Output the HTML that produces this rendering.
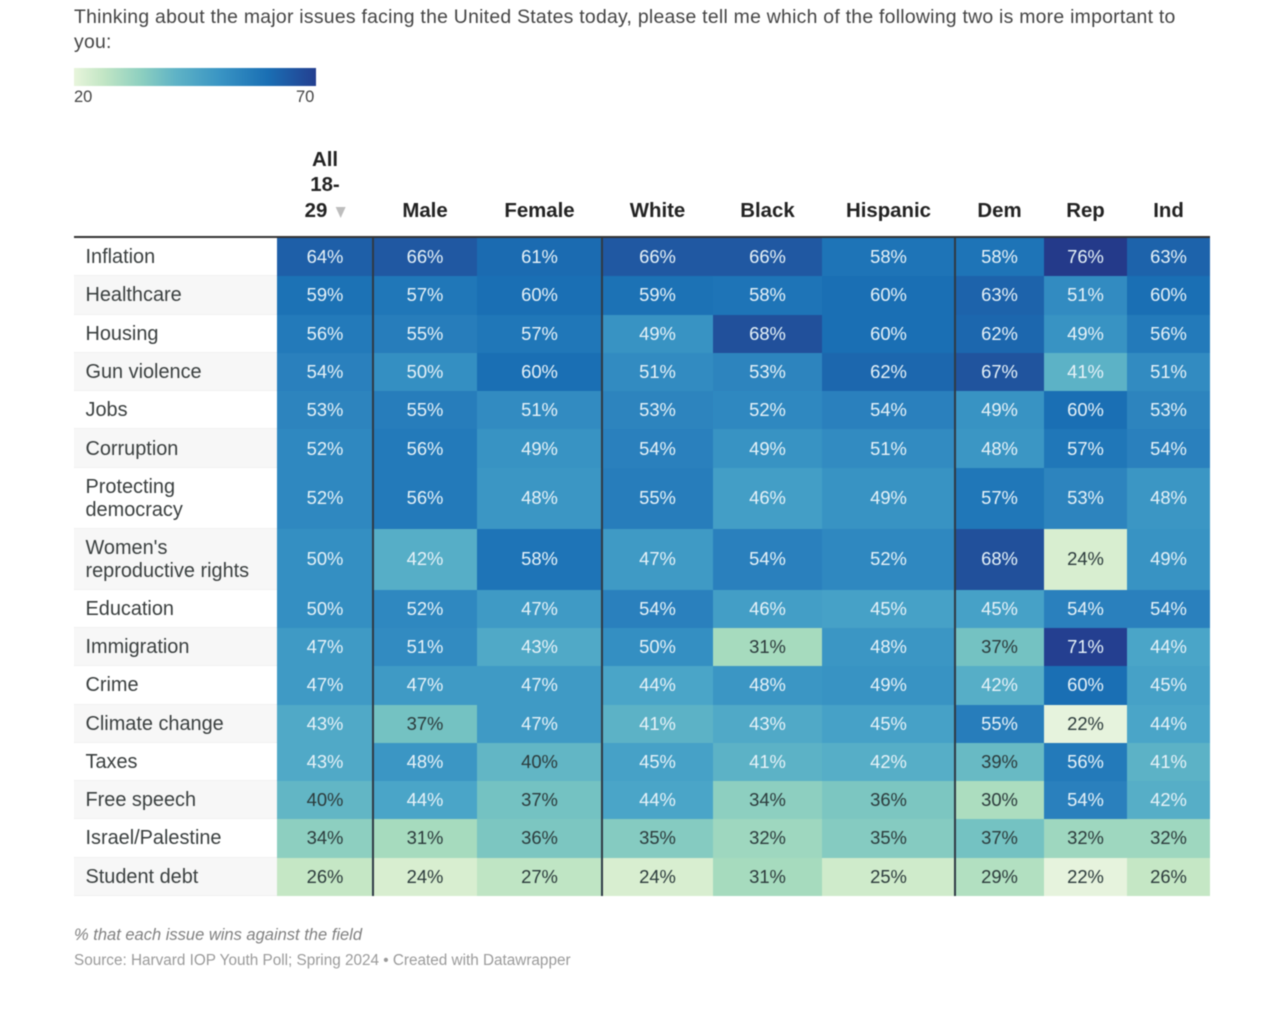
<!DOCTYPE html>
<html lang="en">
<head>
<meta charset="utf-8">
<title>Issues heatmap</title>
<style>
html,body{margin:0;padding:0;background:#fff;width:1284px;height:1024px;overflow:hidden}
body{font-family:"Liberation Sans",sans-serif;position:relative;color:#333}
#chart{position:absolute;left:0;top:0;width:1284px;height:1024px;filter:blur(.5px)}
.abs{position:absolute;white-space:nowrap}
.cell{display:flex;align-items:center;justify-content:center;font-size:18.4px}
.label{display:flex;align-items:center;box-sizing:border-box;padding-left:11.5px;padding-top:2px;font-size:19.9px;line-height:23px;color:#3a3f3f;white-space:pre-line}
.head{font-weight:bold;font-size:20.4px;line-height:25.5px;color:#222;text-align:center;transform:translateX(-50%)}
</style>
</head>
<body>
<div id="chart">
  <div class="abs" style="left:74px;top:5px;font-size:19.4px;letter-spacing:.26px;line-height:24.5px;color:#444">Thinking about the major issues facing the United States today, please tell me which of the following two is more important to<br>you:</div>
  <div class="abs" style="left:74px;top:68px;width:242px;height:18px;background:linear-gradient(90deg,#e8f5dc 0%,#c3e6c5 12%,#8ccfc0 28%,#5fb3c6 42%,#3a95c4 60%,#1a6fb4 80%,#243f90 100%)"></div>
  <div class="abs" style="left:74px;top:88px;font-size:16.5px;color:#444">20</div>
  <div class="abs" style="left:296px;top:88px;font-size:16.5px;color:#444">70</div>
  <div class="abs" style="left:74px;top:235.5px;width:1136px;height:2.5px;background:#333"></div>
  <div id="table"></div>
  <div class="abs" style="left:74px;top:926px;font-size:16.5px;font-style:italic;color:#808080">% that each issue wins against the field</div>
  <div class="abs" style="left:74px;top:952px;font-size:15.3px;color:#9a9a9a">Source: Harvard IOP Youth Poll; Spring 2024 • Created with Datawrapper</div>
</div>
<script>
const columns = ["All\n18-\n29", "Male", "Female", "White", "Black", "Hispanic", "Dem", "Rep", "Ind"];
const issues = ["Inflation", "Healthcare", "Housing", "Gun violence", "Jobs", "Corruption", "Protecting\ndemocracy", "Women's\nreproductive rights", "Education", "Immigration", "Crime", "Climate change", "Taxes", "Free speech", "Israel/Palestine", "Student debt"];

const inflation = [64, 66, 61, 66, 66, 58, 58, 76, 63];
const healthcare = [59, 57, 60, 59, 58, 60, 63, 51, 60];
const housing = [56, 55, 57, 49, 68, 60, 62, 49, 56];
const gunViolence = [54, 50, 60, 51, 53, 62, 67, 41, 51];
const jobs = [53, 55, 51, 53, 52, 54, 49, 60, 53];
const corruption = [52, 56, 49, 54, 49, 51, 48, 57, 54];
const protectingDemocracy = [52, 56, 48, 55, 46, 49, 57, 53, 48];
const womensRights = [50, 42, 58, 47, 54, 52, 68, 24, 49];
const education = [50, 52, 47, 54, 46, 45, 45, 54, 54];
const immigration = [47, 51, 43, 50, 31, 48, 37, 71, 44];
const crime = [47, 47, 47, 44, 48, 49, 42, 60, 45];
const climateChange = [43, 37, 47, 41, 43, 45, 55, 22, 44];
const taxes = [43, 48, 40, 45, 41, 42, 39, 56, 41];
const freeSpeech = [40, 44, 37, 44, 34, 36, 30, 54, 42];
const israelPalestine = [34, 31, 36, 35, 32, 35, 37, 32, 32];
const studentDebt = [26, 24, 27, 24, 31, 25, 29, 22, 26];
const seriesValues = [inflation, healthcare, housing, gunViolence, jobs, corruption, protectingDemocracy, womensRights, education, immigration, crime, climateChange, taxes, freeSpeech, israelPalestine, studentDebt];

const groupDividers = ["Male", "White", "Dem"];

/* Colour scale: value -> colour */
const scaleValues = [20, 22, 24, 26, 31, 34, 37, 40, 44, 47, 50, 54, 57, 60, 64, 68, 71, 76];
const scaleColors = ["#eef8e4", "#e6f3dd", "#d8eed0", "#c5e7c5", "#a6dbbe", "#8dcfc0", "#74c2c2", "#62b6c5", "#4aa5c8", "#3f9ac5", "#348fc2", "#2a80bd", "#2077b8", "#1a6fb4", "#1e5fa8", "#21509b", "#243f90", "#243a8a"];

function hexToRgb(h) {
  return [parseInt(h.slice(1, 3), 16), parseInt(h.slice(3, 5), 16), parseInt(h.slice(5, 7), 16)];
}
function colorFor(v) {
  const last = scaleValues.length - 1;
  if (v <= scaleValues[0]) return scaleColors[0];
  if (v >= scaleValues[last]) return scaleColors[last];
  let i = 0;
  while (v > scaleValues[i + 1]) i++;
  const t = (v - scaleValues[i]) / (scaleValues[i + 1] - scaleValues[i]);
  const a = hexToRgb(scaleColors[i]);
  const b = hexToRgb(scaleColors[i + 1]);
  return "rgb(" + a.map((c, k) => Math.round(c + (b[k] - c) * t)).join(",") + ")";
}
function textColorFor(v) {
  return v <= 40 ? "#2c3b3c" : "#e6f2f8";
}

/* Axis layout */
const tableLeft = 74;
const tableTop = 238;
const labelWidth = 203;
const singleRowHeight = 38.28;
const doubleRowHeight = 61;
const columnWidths = [96, 104, 125, 111, 109, 133, 89, 83, 83];

function xOf(c) {
  let x = tableLeft + labelWidth;
  for (let i = 0; i < c; i++) x += columnWidths[i];
  return x;
}
function rowHeight(r) {
  return issues[r].includes("\n") ? doubleRowHeight : singleRowHeight;
}
function yOf(r) {
  let y = tableTop;
  for (let i = 0; i < r; i++) y += rowHeight(i);
  return y;
}
function slug(s) {
  return s.toLowerCase().replace(/[^a-z0-9]+/g, "-").replace(/^-|-$/g, "");
}
function place(el, x, y, w, h) {
  el.style.left = x + "px";
  el.style.top = y + "px";
  el.style.width = w + "px";
  el.style.height = h + "px";
}

const table = document.getElementById("table");

columns.forEach(function (name, c) {
  const head = document.createElement("div");
  
  
  head.className = "abs head";
  head.innerHTML = name.split("\n").join("<br>");
  head.style.left = (xOf(c) + columnWidths[c] / 2) + "px";
  head.style.bottom = (1024 - 224) + "px";
  if (c === 0) {
    const arrow = document.createElement("span");
    
    
    arrow.style.cssText = "display:inline-block;width:0;height:0;margin-left:8px;vertical-align:-1px;border-left:5.5px solid transparent;border-right:5.5px solid transparent;border-top:11px solid #bdbdbd";
    head.appendChild(arrow);
  }
  table.appendChild(head);
});

issues.forEach(function (issue, r) {
  const y = yOf(r);
  const h = rowHeight(r);
  const label = document.createElement("div");
  
  
  label.className = "abs label";
  label.textContent = issue;
  place(label, tableLeft, y, labelWidth, h);
  label.style.background = r % 2 ? "#f7f7f7" : "#fff";
  label.style.borderBottom = "1px solid #f0f0f0";
  table.appendChild(label);

  seriesValues[r].forEach(function (v, c) {
    const cell = document.createElement("div");
    
    
    cell.className = "abs cell";
    cell.textContent = v + "%";
    place(cell, xOf(c), y, columnWidths[c], h);
    cell.style.background = colorFor(v);
    cell.style.color = textColorFor(v);
    table.appendChild(cell);
  });
});

groupDividers.forEach(function (name) {
  const divider = document.createElement("div");
  
  
  divider.className = "abs";
  const c = columns.indexOf(name);
  place(divider, xOf(c) - 1, tableTop, 2, yOf(issues.length) - tableTop);
  divider.style.background = "#2f3a45";
  table.appendChild(divider);
});
</script>
</body>
</html>
